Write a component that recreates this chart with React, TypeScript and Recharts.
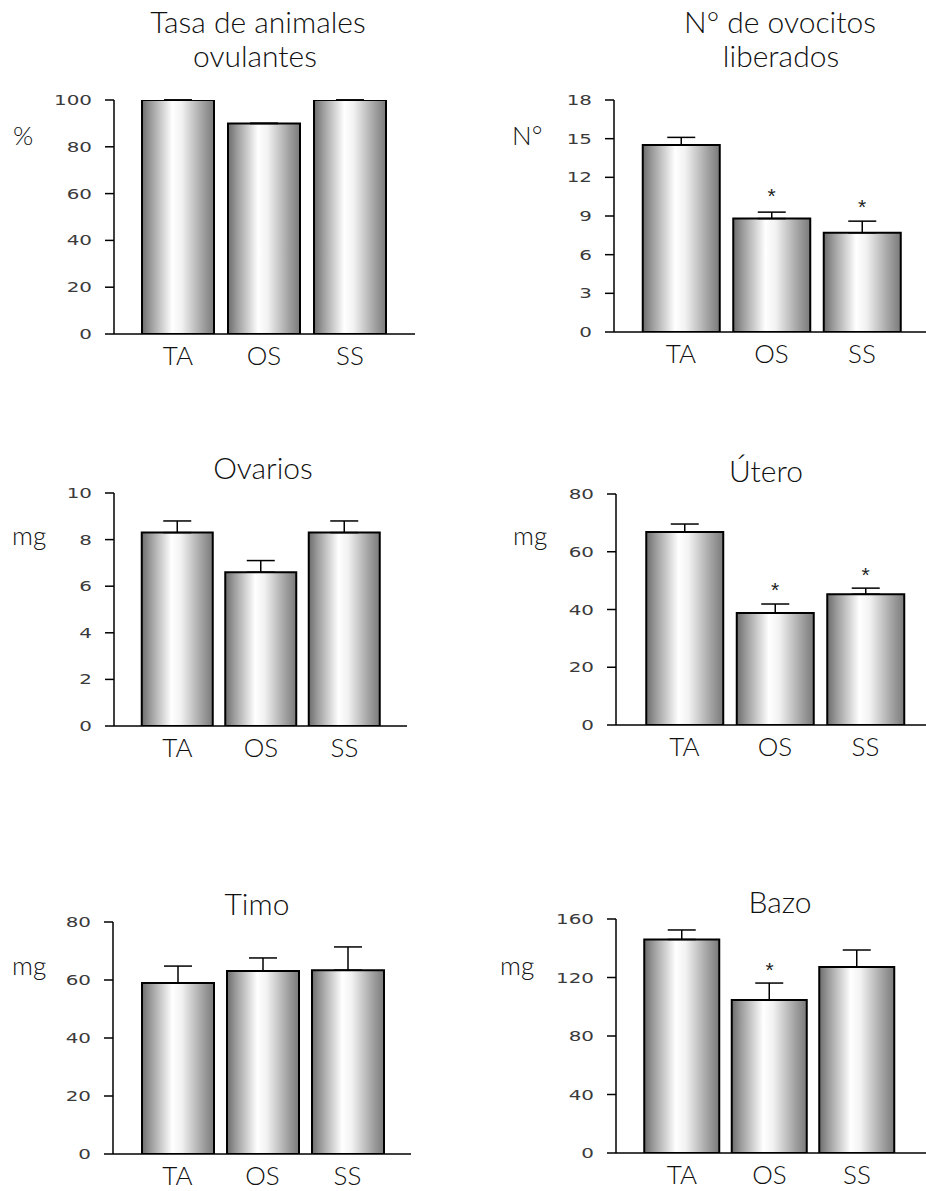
import React from 'react';
import { ComposedChart, Bar, XAxis, YAxis, ErrorBar, Scatter } from 'recharts';

const categories = ['TA', 'OS', 'SS'];

const ovulRate = [100, 90, 100];
const ovulErr = [0, 0, 0];
const ovulSig: (number | null)[] = [null, null, null];
const ovulTicks = [0, 20, 40, 60, 80, 100];

const oocytes = [14.5, 8.8, 7.7];
const oocytesErr = [0.6, 0.5, 0.9];
const oocytesSig: (number | null)[] = [null, 10.8, 9.9];
const oocytesTicks = [0, 3, 6, 9, 12, 15, 18];

const ovaries = [8.3, 6.6, 8.3];
const ovariesErr = [0.5, 0.5, 0.5];
const ovariesSig: (number | null)[] = [null, null, null];
const ovariesTicks = [0, 2, 4, 6, 8, 10];

const uterus = [66.8, 38.8, 45.3];
const uterusErr = [2.8, 3.1, 2.1];
const uterusSig: (number | null)[] = [null, 47.8, 53];
const uterusTicks = [0, 20, 40, 60, 80];

const thymus = [59, 63.1, 63.4];
const thymusErr = [5.8, 4.5, 8];
const thymusSig: (number | null)[] = [null, null, null];
const thymusTicks = [0, 20, 40, 60, 80];

const spleen = [146, 104.6, 127.2];
const spleenErr = [6.5, 11.6, 11.6];
const spleenSig: (number | null)[] = [null, 127, null];
const spleenTicks = [0, 40, 80, 120, 160];

const buildRows = (vals: number[], errs: number[], sig: (number | null)[]) =>
  categories.map((c, i) => ({ cat: c, val: vals[i], err: [0, errs[i]], sig: sig[i] }));

const FONT = 'Lato';

const YTick = (props: any) => {
  const { x, y, payload } = props;
  return (
    <g transform={`translate(${x},${y})`}>
      <text
        transform="scale(1.42,1)"
        textAnchor="end"
        dy="0.36em"
        fontSize={14}
        fontFamily="DejaVu Sans"
        fill="#3a3a3a"
      >
        {payload.value}
      </text>
    </g>
  );
};

const XTick = (props: any) => {
  const { x, y, payload } = props;
  return (
    <text x={x} y={y + 31} textAnchor="middle" fontSize={26} fontFamily={FONT} fontWeight={300} fill="#111">
      {payload.value}
    </text>
  );
};

const Asterisk = (props: any) => {
  const { cx, cy } = props;
  if (typeof cy !== 'number' || isNaN(cy) || props.payload?.sig == null) return <g />;
  return (
    <text x={cx} y={cy + 10} textAnchor="middle" fontSize={21} fontFamily="Liberation Sans" fill="#222">
      *
    </text>
  );
};

type PanelProps = {
  id: string;
  rows: any[];
  ticks: number[];
  ax: number;
  yTop: number;
  yBot: number;
  axisEnd: number;
  firstCenter: number;
  spacing: number;
  barWidth: number;
};

const Panel = ({ id, rows, ticks, ax, yTop, yBot, axisEnd, firstCenter, spacing, barWidth }: PanelProps) => {
  const left = ax - 100;
  const top = yTop - 30;
  const width = axisEnd - ax + 100 + 10;
  const height = yBot - yTop + 30 + 60;
  const padL = firstCenter - spacing / 2 - ax;
  const padR = axisEnd - (firstCenter + 2.5 * spacing);
  const max = ticks[ticks.length - 1];
  return (
    <div style={{ position: 'absolute', left, top, width, height }}>
      <ComposedChart width={width} height={height} data={rows} margin={{ top: 30, right: 10, bottom: 0, left: 0 }}>
        <defs>
          <linearGradient id={`grad-${id}`} x1="0" y1="0" x2="1" y2="0">
            <stop offset="0%" stopColor="#6c6c6c" />
            <stop offset="12%" stopColor="#9a9a9a" />
            <stop offset="42%" stopColor="#ffffff" />
            <stop offset="55%" stopColor="#f2f2f2" />
            <stop offset="85%" stopColor="#a0a0a0" />
            <stop offset="100%" stopColor="#7a7a7a" />
          </linearGradient>
        </defs>
        <XAxis
          dataKey="cat"
          type="category"
          height={60}
          padding={{ left: padL, right: padR }}
          axisLine={{ stroke: '#000', strokeWidth: 1.5 }}
          tickLine={false}
          tickSize={0}
          tickMargin={0}
          tick={<XTick />}
          interval={0}
        />
        <YAxis
          type="number"
          width={100}
          domain={[0, max]}
          ticks={ticks}
          allowDataOverflow
          axisLine={{ stroke: '#000', strokeWidth: 1.5 }}
          tickLine={{ stroke: '#000', strokeWidth: 1.5 }}
          tickSize={9}
          tickMargin={13}
          tick={<YTick />}
          interval={0}
        />
        <Bar dataKey="val" barSize={barWidth} fill={`url(#grad-${id})`} stroke="#000" strokeWidth={2} isAnimationActive={false}>
          <ErrorBar dataKey="err" width={14} stroke="#000" strokeWidth={1.5} direction="y" />
        </Bar>
        <Scatter dataKey="sig" shape={<Asterisk />} isAnimationActive={false} />
      </ComposedChart>
    </div>
  );
};

const titleStyle = { fontSize: 30, fontFamily: FONT, fontWeight: 300, fill: '#111' } as const;
const unitStyle = { fontSize: 26, fontFamily: FONT, fontWeight: 300, fill: '#111' } as const;

export default function App() {
  return (
    <div style={{ position: 'absolute', left: 0, top: 0, width: 926, height: 1191, overflow: 'hidden', background: '#fff' }}>
      <Panel id="p1" rows={buildRows(ovulRate, ovulErr, ovulSig)} ticks={ovulTicks} ax={114} yTop={100} yBot={334} axisEnd={415} firstCenter={178} spacing={86} barWidth={72} />
      <Panel id="p2" rows={buildRows(oocytes, oocytesErr, oocytesSig)} ticks={oocytesTicks} ax={614} yTop={100} yBot={332} axisEnd={930} firstCenter={681} spacing={90.5} barWidth={77} />
      <Panel id="p3" rows={buildRows(ovaries, ovariesErr, ovariesSig)} ticks={ovariesTicks} ax={114} yTop={493} yBot={726} axisEnd={407} firstCenter={177.5} spacing={83.5} barWidth={71} />
      <Panel id="p4" rows={buildRows(uterus, uterusErr, uterusSig)} ticks={uterusTicks} ax={616} yTop={494} yBot={725} axisEnd={930} firstCenter={684.5} spacing={90.5} barWidth={77} />
      <Panel id="p5" rows={buildRows(thymus, thymusErr, thymusSig)} ticks={thymusTicks} ax={113} yTop={922} yBot={1154} axisEnd={411} firstCenter={177.5} spacing={85} barWidth={72} />
      <Panel id="p6" rows={buildRows(spleen, spleenErr, spleenSig)} ticks={spleenTicks} ax={616} yTop={919} yBot={1153} axisEnd={930} firstCenter={682} spacing={87.5} barWidth={75} />
      <svg width={926} height={1191} style={{ position: 'absolute', left: 0, top: 0, pointerEvents: 'none' }}>
        <text x={258} y={33} textAnchor="middle" {...titleStyle}>Tasa de animales</text>
        <text x={255} y={67} textAnchor="middle" {...titleStyle}>ovulantes</text>
        <text x={780} y={33} textAnchor="middle" {...titleStyle}>N° de ovocitos</text>
        <text x={781} y={67} textAnchor="middle" {...titleStyle}>liberados</text>
        <text x={263} y={479} textAnchor="middle" {...titleStyle}>Ovarios</text>
        <text x={766} y={482} textAnchor="middle" {...titleStyle}>Útero</text>
        <text x={257} y={915} textAnchor="middle" {...titleStyle}>Timo</text>
        <text x={780} y={913} textAnchor="middle" {...titleStyle}>Bazo</text>
        <text x={13} y={145} {...unitStyle}>%</text>
        <text x={512} y={145} {...unitStyle}>N°</text>
        <text x={12} y={545} {...unitStyle}>mg</text>
        <text x={513} y={545} {...unitStyle}>mg</text>
        <text x={12} y={975} {...unitStyle}>mg</text>
        <text x={500} y={975} {...unitStyle}>mg</text>
      </svg>
    </div>
  );
}
